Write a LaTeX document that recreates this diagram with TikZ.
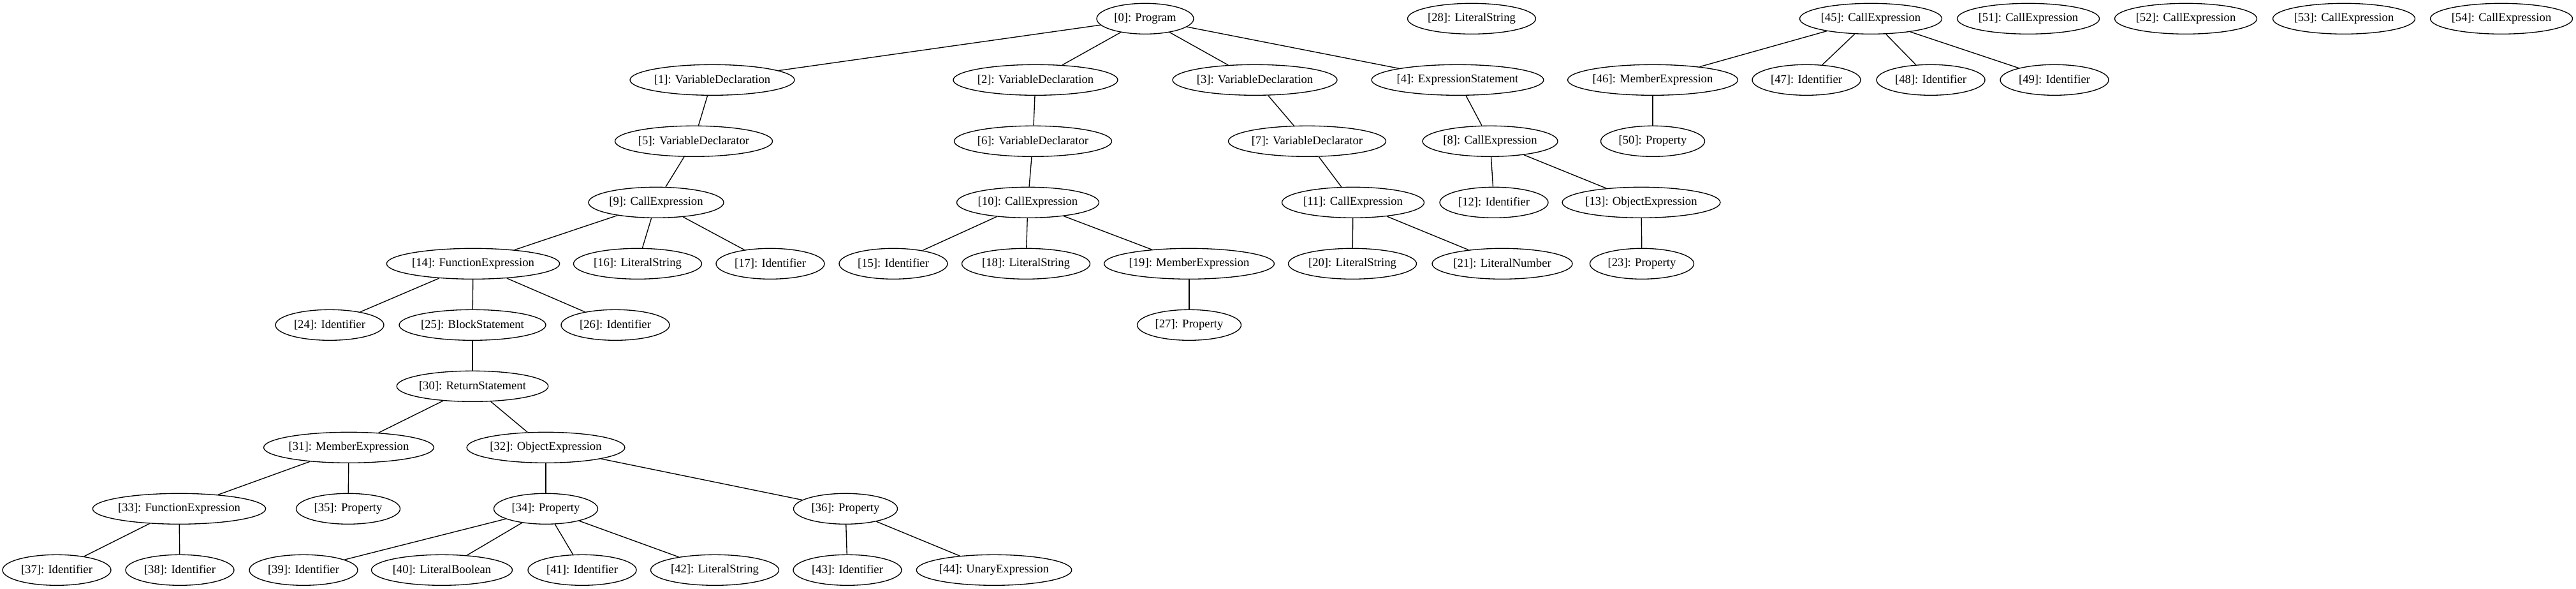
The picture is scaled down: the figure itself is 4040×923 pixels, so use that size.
\documentclass[tikz,border=0pt]{standalone}
\usepackage{fontspec}
\setmainfont{Liberation Serif}
\usetikzlibrary{shapes.geometric}
\tikzset{
  nd/.style={ellipse, draw, line width=1pt, inner sep=0pt, minimum height=36pt,
    minimum width=#1*0.75pt, font=\fontsize{14pt}{16pt}\selectfont},
  edge/.style={line width=1pt}
}
\begin{document}
\begin{tikzpicture}[x=0.75pt,y=-0.75pt]
\useasboundingbox (0,0) rectangle (4040,923);
% row 0
\node[nd=152] (n0) at (1796,29.3) {[0]: Program};
\node[nd=201] (n28) at (2308,29.3) {[28]: LiteralString};
\node[nd=223] (n45) at (2934,29.3) {[45]: CallExpression};
\node[nd=223] (n51) at (3181,29.3) {[51]: CallExpression};
\node[nd=223] (n52) at (3428,29.3) {[52]: CallExpression};
\node[nd=223] (n53) at (3676,29.3) {[53]: CallExpression};
\node[nd=223] (n54) at (3923,29.3) {[54]: CallExpression};
% row 1
\node[nd=257] (n1) at (1117,125.3) {[1]: VariableDeclaration};
\node[nd=257] (n2) at (1624,125.3) {[2]: VariableDeclaration};
\node[nd=257] (n3) at (1968,125.3) {[3]: VariableDeclaration};
\node[nd=265] (n4) at (2286,125.3) {[4]: ExpressionStatement};
\node[nd=262] (n46) at (2592,125.3) {[46]: MemberExpression};
\node[nd=170] (n47) at (2833,125.3) {[47]: Identifier};
\node[nd=170] (n48) at (3028,125.3) {[48]: Identifier};
\node[nd=170] (n49) at (3222,125.3) {[49]: Identifier};
% row 2
\node[nd=247] (n5) at (1088,221.3) {[5]: VariableDeclarator};
\node[nd=247] (n6) at (1620,221.3) {[6]: VariableDeclarator};
\node[nd=247] (n7) at (2050,221.3) {[7]: VariableDeclarator};
\node[nd=212] (n8) at (2337,221.3) {[8]: CallExpression};
\node[nd=163] (n50) at (2592,221.3) {[50]: Property};
% row 3
\node[nd=212] (n9) at (1029,317.3) {[9]: CallExpression};
\node[nd=223] (n10) at (1612,317.3) {[10]: CallExpression};
\node[nd=223] (n11) at (2122,317.3) {[11]: CallExpression};
\node[nd=170] (n12) at (2343,317.3) {[12]: Identifier};
\node[nd=246] (n13) at (2574,317.3) {[13]: ObjectExpression};
% row 4
\node[nd=266] (n14) at (742,413.3) {[14]: FunctionExpression};
\node[nd=201] (n16) at (1000,413.3) {[16]: LiteralString};
\node[nd=170] (n17) at (1208,413.3) {[17]: Identifier};
\node[nd=170] (n15) at (1401,413.3) {[15]: Identifier};
\node[nd=201] (n18) at (1609,413.3) {[18]: LiteralString};
\node[nd=262] (n19) at (1865,413.3) {[19]: MemberExpression};
\node[nd=201] (n20) at (2121,413.3) {[20]: LiteralString};
\node[nd=220] (n21) at (2356,413.3) {[21]: LiteralNumber};
\node[nd=163] (n23) at (2575,413.3) {[23]: Property};
% row 5
\node[nd=170] (n24) at (517,509.3) {[24]: Identifier};
\node[nd=230] (n25) at (741,509.3) {[25]: BlockStatement};
\node[nd=170] (n26) at (965,509.3) {[26]: Identifier};
\node[nd=163] (n27) at (1865,509.3) {[27]: Property};
% row 6
\node[nd=237] (n30) at (741,605.3) {[30]: ReturnStatement};
% row 7
\node[nd=262] (n31) at (547,701.3) {[31]: MemberExpression};
\node[nd=246] (n32) at (856,701.3) {[32]: ObjectExpression};
% row 8
\node[nd=266] (n33) at (281,797.3) {[33]: FunctionExpression};
\node[nd=163] (n35) at (546,797.3) {[35]: Property};
\node[nd=163] (n34) at (856,797.3) {[34]: Property};
\node[nd=163] (n36) at (1326,797.3) {[36]: Property};
% row 9
\node[nd=170] (n37) at (89,893.3) {[37]: Identifier};
\node[nd=170] (n38) at (282,893.3) {[38]: Identifier};
\node[nd=170] (n39) at (476,893.3) {[39]: Identifier};
\node[nd=221] (n40) at (693,893.3) {[40]: LiteralBoolean};
\node[nd=170] (n41) at (913,893.3) {[41]: Identifier};
\node[nd=201] (n42) at (1121,893.3) {[42]: LiteralString};
\node[nd=170] (n43) at (1329,893.3) {[43]: Identifier};
\node[nd=242] (n44) at (1559,893.3) {[44]: UnaryExpression};
% edges
\foreach \a/\b in {0/1,0/2,0/3,0/4,1/5,2/6,3/7,4/8,5/9,6/10,7/11,8/12,8/13,
  9/14,9/16,9/17,10/15,10/18,10/19,11/20,11/21,13/23,14/24,14/25,14/26,19/27,
  25/30,30/31,30/32,31/33,31/35,32/34,32/36,33/37,33/38,34/39,34/40,34/41,34/42,
  36/43,36/44,45/46,45/47,45/48,45/49,46/50}
  \draw[edge] (n\a) -- (n\b);
\end{tikzpicture}
\end{document}
